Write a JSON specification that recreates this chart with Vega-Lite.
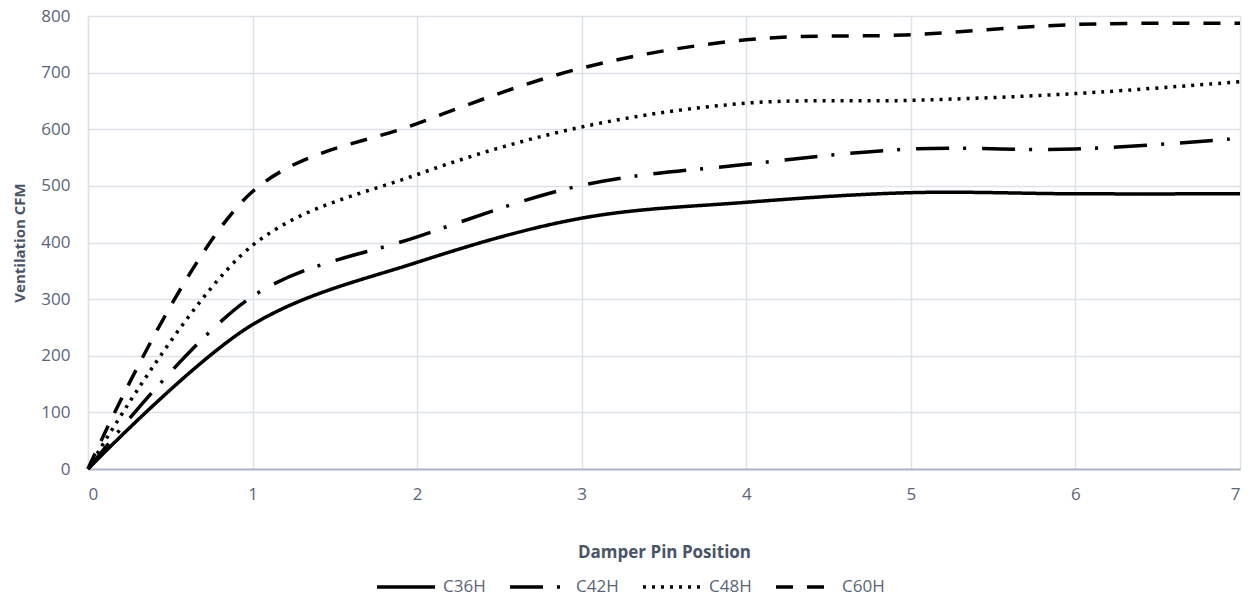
{
  "$schema": "https://vega.github.io/schema/vega-lite/v6.json",
  "autosize": "none",
  "width": 1152,
  "height": 453,
  "padding": {"left": 88, "top": 16, "right": 13, "bottom": 129},
  "background": "white",
  "config": {
    "font": "Open Sans",
    "view": {"stroke": null}
  },
  "data": {
    "values": [
      {"pos": 0, "cfm": 0, "series": "C36H"},
      {"pos": 1, "cfm": 255, "series": "C36H"},
      {"pos": 2, "cfm": 365, "series": "C36H"},
      {"pos": 3, "cfm": 443, "series": "C36H"},
      {"pos": 4, "cfm": 471, "series": "C36H"},
      {"pos": 5, "cfm": 488, "series": "C36H"},
      {"pos": 6, "cfm": 486, "series": "C36H"},
      {"pos": 7, "cfm": 486, "series": "C36H"},
      {"pos": 0, "cfm": 0, "series": "C42H"},
      {"pos": 1, "cfm": 305, "series": "C42H"},
      {"pos": 2, "cfm": 410, "series": "C42H"},
      {"pos": 3, "cfm": 501, "series": "C42H"},
      {"pos": 4, "cfm": 538, "series": "C42H"},
      {"pos": 5, "cfm": 565, "series": "C42H"},
      {"pos": 6, "cfm": 565, "series": "C42H"},
      {"pos": 7, "cfm": 584, "series": "C42H"},
      {"pos": 0, "cfm": 0, "series": "C48H"},
      {"pos": 1, "cfm": 395, "series": "C48H"},
      {"pos": 2, "cfm": 520, "series": "C48H"},
      {"pos": 3, "cfm": 604, "series": "C48H"},
      {"pos": 4, "cfm": 646, "series": "C48H"},
      {"pos": 5, "cfm": 651, "series": "C48H"},
      {"pos": 6, "cfm": 663, "series": "C48H"},
      {"pos": 7, "cfm": 684, "series": "C48H"},
      {"pos": 0, "cfm": 0, "series": "C60H"},
      {"pos": 1, "cfm": 490, "series": "C60H"},
      {"pos": 2, "cfm": 610, "series": "C60H"},
      {"pos": 3, "cfm": 708, "series": "C60H"},
      {"pos": 4, "cfm": 758, "series": "C60H"},
      {"pos": 5, "cfm": 767, "series": "C60H"},
      {"pos": 6, "cfm": 785, "series": "C60H"},
      {"pos": 7, "cfm": 787, "series": "C60H"}
    ]
  },
  "mark": {"type": "line", "interpolate": "catmull-rom", "color": "black", "strokeWidth": 3.5},
  "encoding": {
    "x": {
      "field": "pos", "type": "quantitative",
      "scale": {"domain": [0, 7], "nice": false},
      "axis": {
        "title": "Damper Pin Position",
        "values": [0, 1, 2, 3, 4, 5, 6, 7],
        "tickSize": 0, "labelPadding": 17, "labelFontSize": 17, "labelColor": "#5b6578",
        "titleFontSize": 17, "titleFontWeight": "bold", "titleColor": "#4a5468", "titlePadding": 42,
        "grid": true, "gridColor": "#dde1e8", "gridWidth": 1.5,
        "domainColor": "#aeb7c6", "domainWidth": 2
      }
    },
    "y": {
      "field": "cfm", "type": "quantitative",
      "scale": {"domain": [0, 800], "nice": false},
      "axis": {
        "title": "Ventilation CFM",
        "values": [0, 100, 200, 300, 400, 500, 600, 700, 800],
        "tickSize": 0, "labelPadding": 18, "labelFontSize": 17, "labelColor": "#5b6578",
        "titleFontSize": 15, "titleFontWeight": "bold", "titleColor": "#4a5468", "titlePadding": 13,
        "grid": true, "gridColor": "#dde1e8", "gridWidth": 1.5,
        "domainColor": "#dde1e8", "domainWidth": 1.5
      }
    },
    "strokeDash": {
      "field": "series", "type": "nominal",
      "scale": {
        "domain": ["C36H", "C42H", "C48H", "C60H"],
        "range": [[1, 0], [33, 14, 3, 16], [3, 6], [17, 14]]
      },
      "legend": {
        "title": null,
        "orient": "none",
        "legendX": 287,
        "legendY": 540,
        "direction": "horizontal",
        "columns": 4,
        "symbolType": "stroke",
        "symbolSize": 3364,
        "symbolStrokeWidth": 3.5,
        "symbolStrokeColor": "black",
        "labelFontSize": 17,
        "labelColor": "#5b6578",
        "labelOffset": 6,
        "columnPadding": 17
      }
    }
  }
}
